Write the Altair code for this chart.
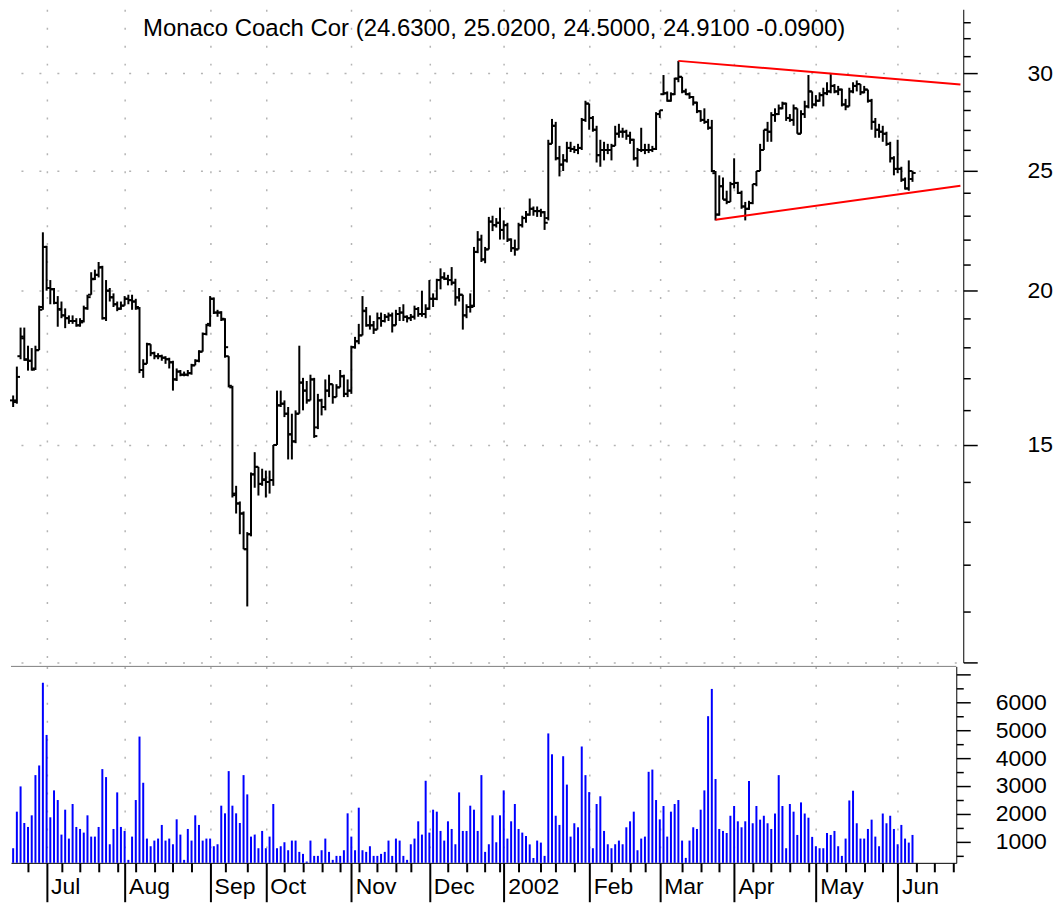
import altair as alt
import pandas as pd

TITLE = "Monaco Coach Cor (24.6300, 25.0200, 24.5000, 24.9100 -0.0900)"
FONT = "Liberation Sans"
first_index = -9  # bar index of first session (index 0 = first July session)

opens = [
    16.30, 16.30, 17.70, 18.30, 17.60, 17.55, 17.30, 17.90, 19.40,
    21.70, 20.10, 20.05, 19.55, 19.30, 19.10, 19.00, 18.90, 18.90, 18.75, 18.90, 19.35, 19.85, 20.45, 20.60, 20.90, 19.00, 20.00, 19.75, 19.50, 19.35,
    19.45, 19.70, 19.65, 19.60, 19.35, 17.25, 17.45, 18.10, 17.80, 17.70, 17.70, 17.65, 17.60, 17.50, 16.95, 17.20, 17.10, 17.10, 17.15, 17.40, 17.55, 17.85, 18.45,
    18.80, 19.70, 19.20, 19.20, 18.95, 17.70, 16.70, 13.70, 13.45, 13.20, 12.35, 12.70, 14.20, 14.40, 13.95,
    14.05, 14.00, 14.05, 15.00, 16.15, 16.20, 15.90, 15.30, 15.10, 15.90, 16.85, 16.60, 16.30, 16.95, 15.50, 16.30, 16.10, 16.60, 16.80, 16.40, 16.70, 17.05, 16.50,
    16.60, 18.00, 18.20, 18.40, 19.25, 18.75, 18.75, 18.60, 19.00, 18.90, 19.05, 19.10, 18.75, 19.15, 19.20, 19.05, 19.00, 19.05, 19.33, 19.15, 19.15,
    19.35, 19.70, 19.70, 20.40, 20.50, 20.45, 20.40, 20.30, 19.75, 19.85, 19.10, 19.40, 19.45, 21.50, 22.00, 21.20, 21.60, 22.75, 22.60, 22.70,
    22.40, 22.60, 22.00, 21.65, 21.60, 22.60, 22.90, 23.05, 23.30, 23.20, 23.20, 23.15, 22.90, 26.30, 27.20, 25.60, 25.30, 25.50, 26.10, 26.05, 26.00, 26.10, 27.50,
    28.35, 27.60, 27.00, 25.75, 26.00, 26.00, 26.00, 26.20, 26.80, 26.90, 26.90, 26.70, 26.50, 25.60, 26.00, 26.00, 26.00, 26.00, 26.05,
    27.80, 28.85, 28.90, 28.50, 28.85, 29.70, 29.80, 29.00, 28.85, 28.70, 28.40, 27.95, 27.50, 27.40, 27.10, 24.90, 23.05, 24.30, 23.70, 23.60,
    24.40, 24.45, 24.00, 23.40, 23.30, 23.55, 24.40, 25.00, 26.00, 27.00, 26.90, 27.75, 27.80, 28.10, 28.35, 27.60, 27.50, 28.10, 26.80, 27.80, 28.20, 29.00,
    28.30, 28.50, 28.80, 28.90, 29.00, 29.30, 29.00, 29.10, 28.30, 28.20, 29.00, 29.30, 29.40, 28.95, 29.10, 28.50, 27.40, 27.00, 26.90, 26.80, 26.30, 25.60,
    25.10, 25.10, 24.60, 24.20, 24.63,
]
highs = [
    16.45, 17.36, 18.67, 18.67, 18.05, 17.97, 18.05, 19.45, 22.30,
    21.75, 20.40, 20.10, 19.80, 19.60, 19.35, 19.10, 19.10, 19.00, 19.00, 19.45, 19.85, 20.70, 20.80, 21.10, 20.95, 20.40, 20.10, 19.90, 19.60, 19.60,
    19.80, 19.85, 19.85, 19.70, 19.40, 17.60, 18.15, 18.10, 17.85, 17.80, 17.75, 17.70, 17.65, 17.55, 17.30, 17.25, 17.20, 17.25, 17.45, 17.60, 17.90, 18.50, 18.80,
    19.80, 19.75, 19.30, 19.25, 19.00, 17.70, 16.75, 13.90, 13.50, 13.25, 12.75, 14.25, 14.80, 14.40, 14.35,
    14.30, 14.30, 15.00, 16.60, 16.60, 16.30, 16.10, 15.90, 16.00, 18.05, 17.00, 16.90, 17.10, 17.00, 16.50, 16.35, 16.95, 17.10, 16.80, 16.80, 17.25, 17.10, 16.95,
    18.05, 18.35, 18.80, 19.80, 19.40, 19.10, 18.90, 19.20, 19.20, 19.15, 19.20, 19.20, 19.30, 19.40, 19.50, 19.10, 19.15, 19.45, 19.40, 20.00, 19.50,
    20.40, 19.90, 20.45, 20.85, 20.70, 20.60, 20.90, 20.45, 20.10, 19.85, 19.50, 19.90, 21.70, 22.35, 22.20, 21.70, 22.95, 23.00, 22.90, 23.35,
    22.80, 22.70, 22.05, 22.00, 22.70, 23.00, 23.20, 23.75, 23.40, 23.40, 23.30, 23.20, 26.50, 27.55, 27.40, 26.20, 25.80, 26.40, 26.40, 26.20, 26.30, 27.60, 28.50,
    28.35, 27.70, 27.20, 26.50, 26.40, 26.30, 26.30, 27.20, 27.30, 27.10, 27.00, 26.90, 26.55, 26.10, 27.10, 26.30, 26.30, 26.20, 27.90,
    28.00, 29.90, 29.00, 28.95, 29.75, 30.70, 29.80, 29.15, 28.95, 28.75, 28.45, 28.00, 28.10, 27.55, 27.50, 25.00, 24.80, 24.70, 24.10, 24.50,
    25.60, 24.50, 24.10, 23.60, 23.65, 24.40, 25.00, 26.30, 27.00, 27.40, 27.90, 28.10, 28.30, 28.45, 28.40, 27.80, 28.30, 28.10, 28.00, 28.50, 29.90, 29.00,
    28.80, 28.95, 29.20, 29.50, 29.95, 29.40, 29.30, 29.15, 28.60, 29.20, 29.50, 29.60, 29.40, 29.30, 29.10, 28.60, 27.60, 27.30, 27.20, 26.90, 26.40, 25.70,
    26.50, 25.20, 24.70, 25.50, 25.02,
]
lows = [
    16.10, 16.20, 17.60, 17.55, 17.23, 17.23, 17.25, 17.90, 19.30,
    20.00, 19.50, 19.50, 18.70, 19.00, 18.65, 18.80, 18.80, 18.70, 18.70, 18.85, 19.30, 19.85, 20.40, 20.50, 18.95, 18.90, 19.60, 19.40, 19.25, 19.30,
    19.45, 19.50, 19.30, 19.30, 17.15, 17.00, 17.45, 17.70, 17.60, 17.60, 17.55, 17.45, 17.30, 16.60, 16.90, 17.05, 17.05, 17.05, 17.10, 17.40, 17.50, 17.85, 18.40,
    18.70, 19.15, 19.05, 18.90, 17.65, 16.70, 13.60, 13.20, 12.70, 12.35, 11.10, 12.65, 13.85, 13.65, 13.90,
    13.60, 13.70, 13.90, 15.00, 16.10, 15.80, 14.60, 14.60, 15.05, 15.90, 16.00, 16.20, 16.30, 15.20, 15.45, 15.85, 16.00, 16.40, 16.20, 16.40, 16.70, 16.40, 16.40,
    16.50, 17.95, 18.10, 18.40, 18.70, 18.60, 18.45, 18.60, 18.70, 18.85, 18.90, 18.50, 18.75, 18.90, 18.90, 18.85, 18.90, 18.95, 19.05, 19.05, 19.00,
    19.30, 19.40, 19.65, 20.05, 20.40, 20.20, 20.20, 19.45, 19.60, 18.60, 19.00, 19.20, 19.40, 21.45, 21.10, 21.05, 21.60, 22.35, 22.50, 22.00,
    22.00, 21.90, 21.50, 21.35, 21.60, 22.50, 22.70, 23.00, 23.00, 22.95, 22.95, 22.40, 22.80, 26.30, 25.50, 24.75, 25.00, 25.40, 25.90, 25.85, 25.80, 26.00, 27.40,
    27.00, 26.90, 25.40, 25.20, 25.50, 25.80, 25.50, 26.20, 26.60, 26.60, 26.50, 26.30, 25.50, 25.20, 25.90, 25.80, 25.85, 25.90, 26.00,
    27.60, 28.80, 28.45, 28.45, 28.80, 29.50, 28.90, 28.80, 28.60, 28.25, 27.85, 27.40, 27.30, 27.00, 24.95, 22.80, 23.00, 23.70, 23.50, 23.60,
    24.20, 23.95, 23.30, 22.80, 23.25, 23.50, 24.30, 25.00, 26.00, 26.40, 26.40, 27.40, 27.75, 28.05, 27.45, 27.40, 27.20, 26.80, 26.80, 27.60, 28.10, 28.10,
    28.20, 28.45, 28.20, 28.80, 28.90, 28.90, 28.80, 28.20, 28.00, 28.20, 28.90, 29.00, 28.80, 28.90, 28.40, 27.00, 26.60, 26.60, 26.40, 26.20, 25.40, 24.80,
    24.90, 24.50, 24.15, 24.10, 24.50,
]
closes = [
    16.25, 17.03, 18.36, 17.58, 17.55, 17.26, 17.90, 19.30, 21.70,
    20.10, 20.06, 19.55, 19.33, 19.10, 19.00, 18.90, 18.90, 18.75, 18.85, 19.36, 19.76, 20.43, 20.60, 20.88, 19.00, 20.00, 19.76, 19.50, 19.33, 19.45,
    19.70, 19.65, 19.60, 19.40, 17.25, 17.45, 18.10, 17.80, 17.70, 17.70, 17.65, 17.60, 17.50, 16.95, 17.20, 17.10, 17.10, 17.15, 17.40, 17.55, 17.85, 18.45, 18.75,
    19.70, 19.20, 19.20, 18.98, 18.00, 16.75, 13.66, 13.45, 13.20, 12.35, 12.70, 14.20, 14.40, 13.95, 14.07,
    14.00, 14.05, 15.00, 16.15, 16.20, 15.90, 15.30, 15.10, 15.90, 16.85, 16.60, 16.30, 16.95, 15.25, 16.30, 16.10, 16.60, 16.80, 16.40, 16.70, 17.05, 16.50, 16.60,
    18.00, 18.20, 18.40, 19.27, 18.75, 18.75, 18.60, 19.00, 18.90, 19.05, 19.10, 18.75, 19.15, 19.20, 19.05, 19.00, 19.05, 19.33, 19.15, 19.15, 19.33,
    19.70, 19.70, 20.40, 20.50, 20.45, 20.40, 20.30, 19.75, 19.85, 19.10, 19.40, 19.40, 21.50, 22.00, 21.20, 21.60, 22.75, 22.60, 22.70, 22.40,
    22.60, 22.00, 21.65, 21.60, 22.60, 22.90, 23.05, 23.30, 23.20, 23.20, 23.15, 22.70, 26.30, 27.20, 25.60, 25.30, 25.50, 26.10, 26.05, 26.00, 26.10, 27.50, 28.35,
    27.60, 27.00, 25.75, 26.00, 26.00, 26.00, 26.20, 26.80, 26.90, 26.90, 26.70, 26.50, 25.60, 26.00, 26.00, 26.00, 26.00, 26.05, 27.80,
    28.00, 28.90, 28.50, 28.85, 29.70, 29.80, 29.00, 28.85, 28.70, 28.40, 27.95, 27.50, 27.40, 27.10, 25.00, 23.05, 24.30, 23.70, 23.60, 24.40,
    24.45, 24.00, 23.40, 23.30, 23.55, 24.40, 25.00, 26.00, 27.00, 26.90, 27.75, 27.80, 28.10, 28.35, 27.60, 27.50, 28.10, 26.80, 27.80, 28.20, 29.00, 28.30,
    28.50, 28.80, 28.90, 29.00, 29.30, 29.00, 29.10, 28.30, 28.20, 29.00, 29.30, 29.40, 28.95, 29.10, 28.50, 27.40, 27.00, 26.90, 26.80, 26.30, 25.60, 25.10,
    25.10, 24.60, 24.20, 25.00, 24.91,
]
volumes = [
    762, 2077, 2985, 1670, 1527, 1945, 3391, 3738, 6712,
    4836, 1874, 2842, 2495, 1252, 2148, 1109, 2352, 1527, 1455, 1324, 1945, 1180, 1180, 1527, 3607, 3320, 905, 1455, 2770, 1527,
    1384, 344, 1180, 2495, 4777, 3116, 1109, 834, 1037, 1109, 1599, 1037, 1109, 905, 1802, 1252, 344, 1455, 1037, 1945, 1599, 1037, 1109,
    1109, 834, 905, 2292, 2017, 3535, 2292, 2017, 1670, 3391, 2698, 1180, 1252, 762, 1384,
    762, 1180, 2352, 762, 834, 977, 690, 1037, 1037, 631, 559, 284, 1037, 487, 487, 690, 1109, 631, 344, 487, 487, 690, 2017,
    1180, 690, 2220, 690, 631, 834, 487, 487, 559, 631, 1037, 487, 1109, 1037, 487, 344, 905, 1109, 1730, 1252, 3188,
    1324, 2148, 2077, 1384, 1037, 1730, 1455, 905, 2770, 1384, 1384, 2292, 2148, 1384, 3391, 631, 905, 1945, 977, 1945,
    2842, 1109, 1730, 2352, 1455, 1324, 1200, 900, 410, 1037, 965, 487, 4890, 4140, 1930, 1600, 4070, 3050, 1180, 1660, 1515, 4420, 3390,
    2780, 762, 2352, 2630, 1384, 905, 762, 905, 1037, 905, 1515, 1730, 2077, 690, 1109, 1180, 3510, 3590, 2495,
    1800, 2280, 1180, 2077, 2352, 2495, 1037, 415, 1037, 1515, 1455, 2148, 2842, 5510, 6490, 3250, 1455, 1384, 1310, 1930,
    2280, 1730, 1515, 1730, 3180, 1660, 2280, 1790, 1930, 1660, 1455, 2010, 3390, 2280, 762, 2352, 2077, 1240, 2410, 2010, 1860, 1170,
    834, 762, 762, 1310, 1240, 1384, 834, 487, 1109, 2480, 2830, 1660, 1109, 1109, 1455, 1790, 1180, 834, 2010, 1660, 1930, 1455,
    905, 1600, 1109, 965, 1240,
]

# axis tick data (bar index positions)
month_ticks = [0, 21, 44, 59, 82, 103, 123, 146, 165, 185, 207, 229]
month_labels = ["Jul", "Aug", "Sep", "Oct", "Nov", "Dec", "2002", "Feb", "Mar", "Apr", "May", "Jun"]
week_ticks = [-5, 4, 9, 14, 19, 24, 29, 34, 39, 48, 54, 64, 69, 74, 79, 84, 89, 94, 98,
              108, 113, 118, 122, 127, 133, 137, 142, 152, 157, 161, 171, 176, 181,
              190, 195, 200, 205, 210, 215, 220, 225, 234, 239, 244]
price_ticks = list(range(10, 34))
price_labels = [15, 20, 25, 30]
volume_ticks = list(range(500, 7001, 500))
volume_labels = [1000, 2000, 3000, 4000, 5000, 6000]

# triangle trend lines (bar index, price)
trend_line = ["upper", "upper", "lower", "lower"]
trend_x = [170, 245.9, 180, 245.9]
trend_p = [30.70, 29.38, 22.83, 24.32]

n = len(closes)
df = pd.DataFrame({
    "i": list(range(first_index, first_index + n)),
    "open": opens, "high": highs, "low": lows, "close": closes, "volume": volumes,
})
trend = pd.DataFrame({"line": trend_line, "x": trend_x, "p": trend_p})

W = 948
PH = 655
VH = 197
XDOM = [-9.58, 244.78]
xs = alt.Scale(domain=XDOM, nice=False, zero=False)
ys = alt.Scale(type="log", domain=[10, 33.8], nice=False)
vs = alt.Scale(domain=[237, 7300], nice=False, zero=False)

GRID = "#b4b4b4"
GDASH = [2, 16]

mt = "[" + ",".join(str(v) for v in month_ticks) + "]"
ml = "[" + ",".join("'" + s + "'" for s in month_labels) + "]"
is_month = f"indexof({mt}, datum.value) >= 0"

price_x_axis = alt.Axis(values=month_ticks, labels=False, ticks=False, domain=False,
                        grid=True, gridColor=GRID, gridDash=GDASH, gridWidth=1.5, title=None)
pl = "[" + ",".join(str(v) for v in price_labels) + "]"
price_y_axis = alt.Axis(
    orient="right", values=price_ticks, title=None, offset=7,
    tickSize={"condition": {"test": "datum.value % 5 === 0", "value": 14}, "value": 7},
    tickColor="black", tickWidth=1.5, domainColor="black", domainWidth=1,
    labelExpr=f"indexof({pl}, datum.value) >= 0 ? datum.label : ''",
    labelFont=FONT, labelFontSize=23, labelColor="black", labelAlign="left",
    labelPadding=50, labelOverlap=False, labelFlush=False,
    grid=True, gridColor=GRID, gridDash=GDASH, gridWidth=1.5,
    gridOpacity={"condition": {"test": "datum.value % 5 === 0", "value": 1}, "value": 0},
)

base = alt.Chart(df).transform_calculate(xl="datum.i - 0.85", xr="datum.i + 0.85")

hl = base.mark_rule(color="black", strokeWidth=2).encode(
    x=alt.X("i:Q", scale=xs, axis=price_x_axis),
    y=alt.Y("low:Q", scale=ys, axis=price_y_axis),
    y2="high:Q",
)
op = base.mark_rule(color="black", strokeWidth=2).encode(
    x=alt.X("xl:Q", scale=xs), x2="i:Q", y=alt.Y("open:Q", scale=ys))
cl = base.mark_rule(color="black", strokeWidth=2).encode(
    x=alt.X("i:Q", scale=xs), x2="xr:Q", y=alt.Y("close:Q", scale=ys))

tl = alt.Chart(trend).mark_line(color="#ff0000", strokeWidth=2).encode(
    x=alt.X("x:Q", scale=xs), y=alt.Y("p:Q", scale=ys), detail="line:N")

title_txt = alt.Chart(pd.DataFrame({"t": [TITLE]})).mark_text(
    font=FONT, fontSize=24, color="black", align="center", baseline="alphabetic"
).encode(text="t:N", x=alt.value(484.5), y=alt.value(27))

price = alt.layer(hl, op, cl, tl, title_txt).properties(width=W, height=PH)

vol_x_axis = alt.Axis(
    values=sorted(month_ticks + week_ticks), title=None,
    tickSize={"condition": {"test": is_month, "value": 39}, "value": 9},
    tickColor="black", tickWidth=2, domainColor="black", domainWidth=1,
    labelExpr=f"{is_month} ? {ml}[indexof({mt}, datum.value)] : ''",
    labelFont=FONT, labelFontSize=23, labelColor="black", labelAlign="left",
    labelBaseline="alphabetic", labelPadding=-8, labelOffset=4,
    labelOverlap=False, labelFlush=False,
    grid=True, gridColor=GRID, gridDash=GDASH, gridWidth=1.5,
    gridOpacity={"condition": {"test": is_month, "value": 1}, "value": 0},
)
vl = "[" + ",".join(str(v) for v in volume_labels) + "]"
vol_y_axis = alt.Axis(
    orient="right", values=volume_ticks, title=None, grid=False, format="d",
    tickSize={"condition": {"test": "datum.value % 1000 === 0", "value": 14}, "value": 7},
    tickColor="black", tickWidth=1.5, domainColor="black", domainWidth=1,
    labelExpr=f"indexof({vl}, datum.value) >= 0 ? datum.label : ''",
    labelFont=FONT, labelFontSize=23, labelColor="black", labelAlign="left",
    labelPadding=25, labelOverlap=False, labelFlush=False,
)

vbars = alt.Chart(df).mark_rule(color="#0000ff", strokeWidth=2).encode(
    x=alt.X("i:Q", scale=xs, axis=vol_x_axis),
    y=alt.Y("volume:Q", scale=vs, axis=vol_y_axis),
    y2=alt.datum(237),
)
top_line = alt.Chart(pd.DataFrame({"k": [0]})).mark_rule(color="#808080", strokeWidth=1).encode(
    y=alt.value(0))

volume = alt.layer(vbars, top_line).properties(width=W, height=VH)

chart = alt.vconcat(price, volume, spacing=4, bounds="flush").configure(
    padding=0, background="white"
).configure_view(stroke=None).configure_axis(labelFont=FONT)

chart.save("out.html", embed_options={"renderer": "svg", "actions": False})
